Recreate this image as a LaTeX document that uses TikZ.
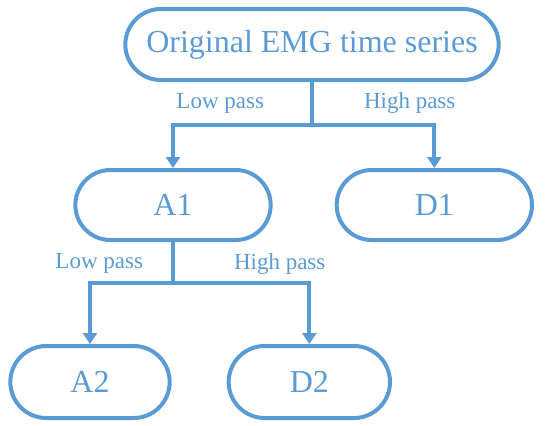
\documentclass[tikz,border=0pt]{standalone}
\usepackage{fontspec}
\setmainfont{Liberation Serif}
\usepackage{xcolor}
\usetikzlibrary{shapes.misc, arrows.meta, positioning, calc}
\definecolor{emgblue}{RGB}{91,155,213}

\begin{document}
\begin{tikzpicture}[node distance=1cm, >={Triangle[length=11pt, width=14pt]}, line width=4pt, x=1pt, y=1pt]
    \tikzset{
        root/.style={rounded rectangle, draw=emgblue, text=emgblue, minimum width=380pt, minimum height=71pt, font=\fontsize{32}{38}\selectfont},
        level1/.style={rounded rectangle, draw=emgblue, text=emgblue, minimum width=202pt, minimum height=70pt, font=\fontsize{32}{38}\selectfont},
        level2/.style={rounded rectangle, draw=emgblue, text=emgblue, minimum height=72pt, font=\fontsize{32}{38}\selectfont},
        passlabel/.style={text=emgblue, inner sep=0pt, font=\fontsize{23}{27}\selectfont},
        trunk/.style={draw=emgblue},
        line/.style={draw=emgblue, ->}
    }
    \useasboundingbox (0,0) rectangle (550,-426);

    \node (Root) [root] at (312,-44.5) {Original EMG time series};
    \node (A1) [level1, below=86pt of Root, xshift=-139pt] {A1};
    \node (D1) [level1, right=62pt of A1] {D1};
    \node (A2) [level2, minimum width=166pt, below=102pt of A1, xshift=-83pt] {A2};
    \node (D2) [level2, minimum width=168pt, right=55pt of A2] {D2};

    \coordinate (Split1) at ($(Root.south)+(0,-43)$);
    \coordinate (Split2) at ($(A1.south)+(0,-41)$);

    \node (Low1) [passlabel, above left=10pt and 46pt of Split1] {Low pass};
    \node (High1) [passlabel, above right=10pt and 50pt of Split1] {High pass};
    \node (Low2) [passlabel, above left=8pt and 28pt of Split2] {Low pass};
    \node (High2) [passlabel, above right=7pt and 59pt of Split2] {High pass};

    \path [trunk] (Root.south) -- (Split1);
    \path [line] (Split1) -| (A1.north);
    \path [line] (Split1) -| (D1.north);
    \path [trunk] (A1.south) -- (Split2);
    \path [line] (Split2) -| (A2.north);
    \path [line] (Split2) -| (D2.north);

\end{tikzpicture}
\end{document}
